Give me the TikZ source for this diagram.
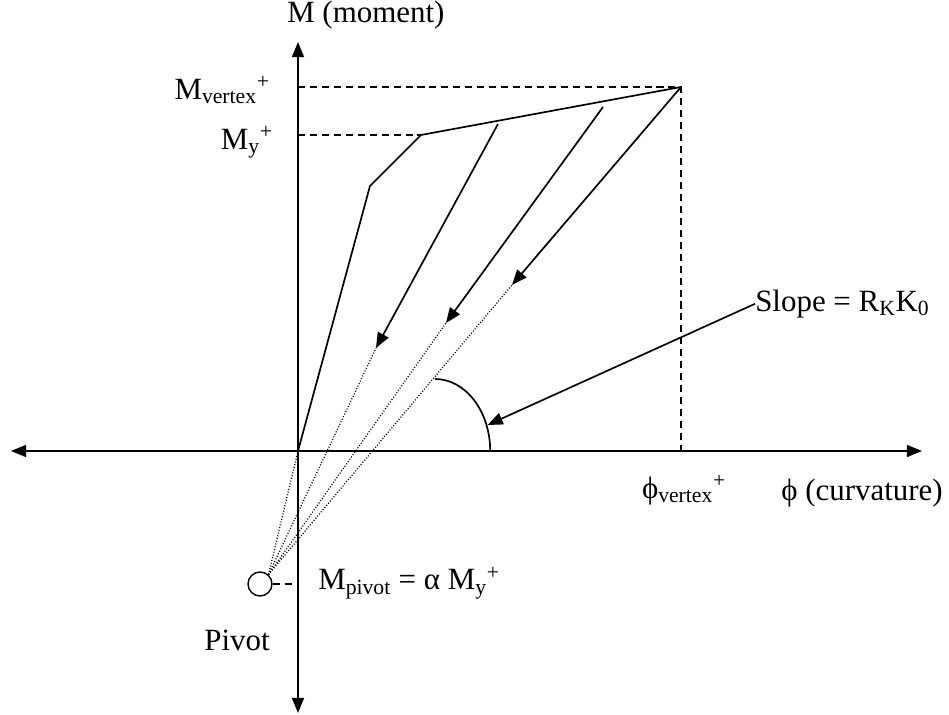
\documentclass[tikz,border=0pt]{standalone}
\usepackage{fontspec}
\setmainfont{Liberation Serif}
\usepackage{tikz}
\usetikzlibrary{arrows.meta}

\begin{document}
\begin{tikzpicture}[>={Triangle[length=0.38cm,width=0.3cm]}]
			\useasboundingbox (-7.45,-6.6) rectangle (16.275,11.275);
			\tikzset{
				lbl/.style={font=\fontsize{22}{26}\selectfont, inner sep=0pt},
				axis/.style={line width=1.4pt,<->},
				guide/.style={line width=1pt, dash pattern=on 5pt off 3.5pt},
				trace/.style={line width=0.9pt, dash pattern=on 0.7pt off 1.3pt},
				unload/.style={line width=1.2pt,->},
			}
			
			\coordinate (O) at (0,0);
			\coordinate (xL) at (-7.175,0);
			\coordinate (xR) at (15.6,0);
			\coordinate (yT) at (0,10.225);
			\coordinate (yB) at (0,-6.55);
			
			% backbone
			\coordinate (K) at (1.8,6.625);
			\coordinate (Y) at (3.075,7.9);
			\coordinate (V) at (9.575,9.1);
			\coordinate (Vy) at (0,9.1);
			\coordinate (Vx) at (9.575,0);
			\coordinate (Yy) at (0,7.9);
			
			% unloading branches
			\coordinate (U1) at (5.0,8.175);
			\coordinate (T1) at (1.95,2.575);
			\coordinate (U2) at (7.625,8.6);
			\coordinate (T2) at (3.7,3.2);
			\coordinate (T3) at (5.35,4.15);
			
			\draw[axis] (xL)--(xR);
			\draw[axis] (yB)--(yT);
			
			\draw[guide] (Vy)--(V)--(Vx);
			\draw[guide] (Yy)--(Y);
			
			\draw[line width=1.2pt,line join=miter] (O)--(K)--(Y)--(V);
			\draw[unload] (U1)--(T1);
			\draw[unload] (U2)--(T2);
			\draw[unload] (V)--(T3);
			
			% pivot point
			\node[circle,draw,line width=1pt,minimum size=0.6cm,inner sep=0pt] (P) at (-0.95,-3.325) {};
			\coordinate (Pm) at (0,-3.325);
			\draw[guide] (P.east)--(Pm);
			\foreach \t in {O,T1,T2,T3}
				\draw[trace] (P.48)--(\t);
			
			\coordinate (A0) at (3.425,1.8);
			\coordinate (A) at (4.74,0.65);
			\draw[line width=1.2pt] (A0) arc[start angle=90,end angle=0,x radius=1.38,y radius=1.8];
			
			\node[lbl,anchor=west] (ylab) at (-0.275,10.9) {M (moment)};
			\node[lbl,anchor=east] (mv) at (-0.7,9.02) {M\textsubscript{vertex}\textsuperscript{+}};
			\node[lbl,anchor=east] (my) at (-0.625,7.72) {M\textsubscript{y}\textsuperscript{+}};
			\node[lbl] (phv) at (9.65,-0.975) {ϕ\textsubscript{vertex}\textsuperscript{+}};
			\node[lbl] (xlab) at (14.1,-1.05) {ϕ (curvature)};
			\node[lbl,anchor=west] (slope) at (11.425,3.68) {Slope = R\textsubscript{K}K\textsubscript{0}};
			\node[lbl,anchor=west] (mp) at (0.5,-3.3) {M\textsubscript{pivot} = α M\textsubscript{y}\textsuperscript{+}};
			\node[lbl] (pv) at (-1.525,-4.725) {Pivot};
			
			\draw[unload] (slope.west)--(A);
		\end{tikzpicture}
\end{document}
